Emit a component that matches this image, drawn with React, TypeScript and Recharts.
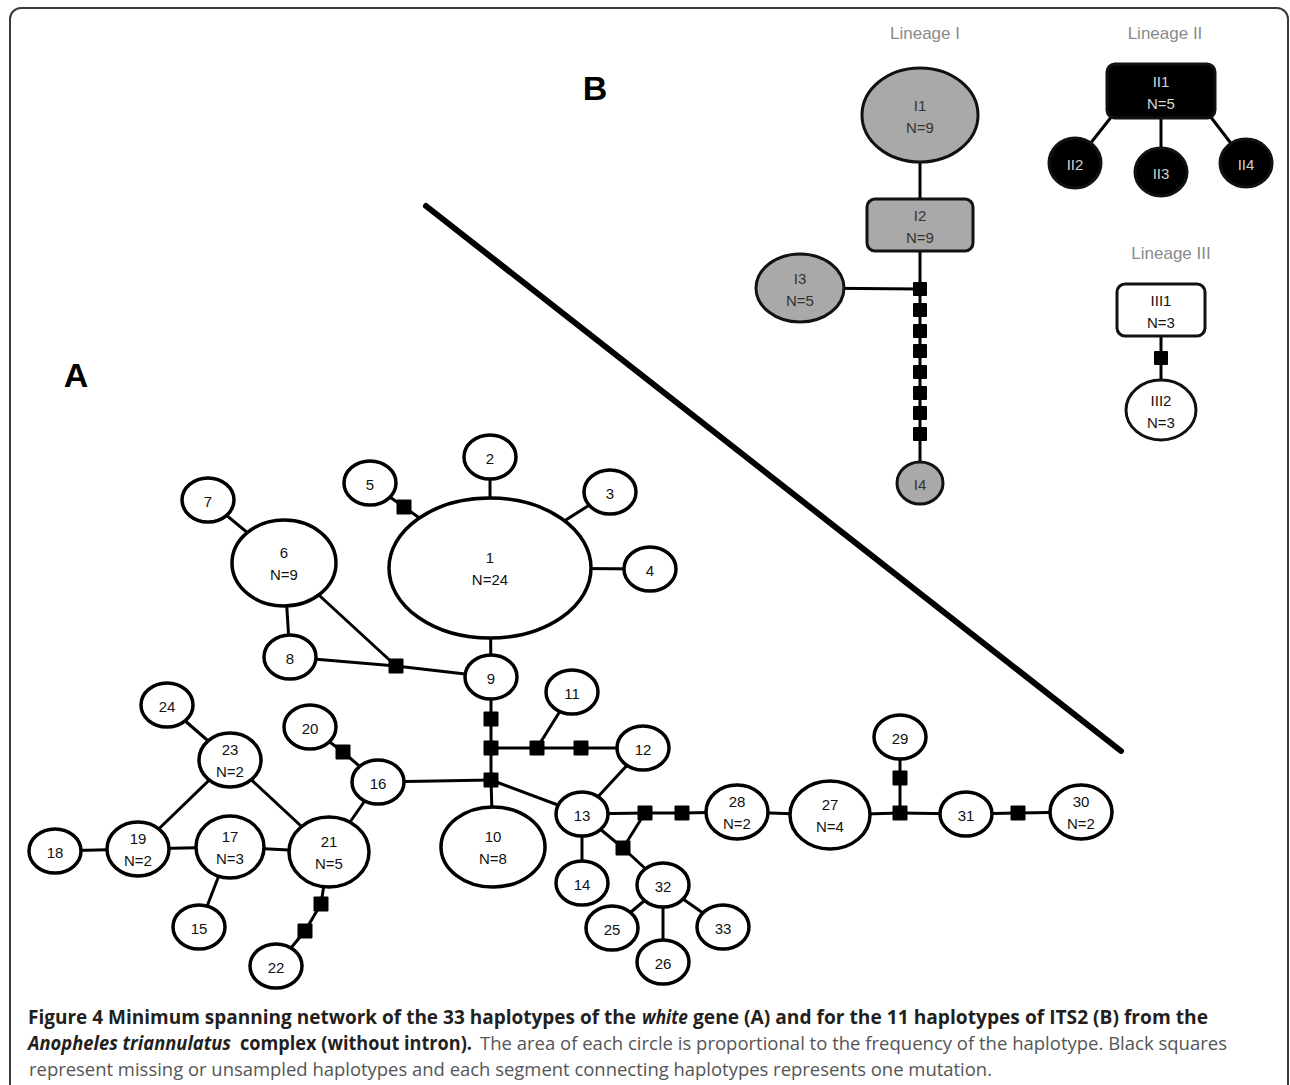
import React from 'react';
import { ScatterChart, Scatter, XAxis, YAxis } from 'recharts';

const W = 1290;
const H = 1085;

// ---------- Panel A: haplotypes of the white gene (id, frequency N, layout position) ----------
const haplotypesA = [
  { id: '1', n: 24, x: 490, y: 568 },
  { id: '2', n: 1, x: 490, y: 457 },
  { id: '3', n: 1, x: 610, y: 492 },
  { id: '4', n: 1, x: 650, y: 569 },
  { id: '5', n: 1, x: 370, y: 483 },
  { id: '6', n: 9, x: 284, y: 563 },
  { id: '7', n: 1, x: 208, y: 500 },
  { id: '8', n: 1, x: 290, y: 657 },
  { id: '9', n: 1, x: 491, y: 677 },
  { id: '10', n: 8, x: 493, y: 847 },
  { id: '11', n: 1, x: 572, y: 692 },
  { id: '12', n: 1, x: 643, y: 748 },
  { id: '13', n: 1, x: 582, y: 814 },
  { id: '14', n: 1, x: 582, y: 883 },
  { id: '15', n: 1, x: 199, y: 927 },
  { id: '16', n: 1, x: 378, y: 782 },
  { id: '17', n: 3, x: 230, y: 847 },
  { id: '18', n: 1, x: 55, y: 851 },
  { id: '19', n: 2, x: 138, y: 849 },
  { id: '20', n: 1, x: 310, y: 727 },
  { id: '21', n: 5, x: 329, y: 852 },
  { id: '22', n: 1, x: 276, y: 966 },
  { id: '23', n: 2, x: 230, y: 760 },
  { id: '24', n: 1, x: 167, y: 705 },
  { id: '25', n: 1, x: 612, y: 928 },
  { id: '26', n: 1, x: 663, y: 962 },
  { id: '27', n: 4, x: 830, y: 815 },
  { id: '28', n: 2, x: 737, y: 812 },
  { id: '29', n: 1, x: 900, y: 737 },
  { id: '30', n: 2, x: 1081, y: 812 },
  { id: '31', n: 1, x: 966, y: 814 },
  { id: '32', n: 1, x: 663, y: 885 },
  { id: '33', n: 1, x: 723, y: 927 },
];

// missing / unsampled haplotypes (black squares) in panel A
const missingA = [
  { id: 'a1', x: 404, y: 507 },
  { id: 'a2', x: 396, y: 666 },
  { id: 'a3', x: 491, y: 719 },
  { id: 'a4', x: 491, y: 748 },
  { id: 'a5', x: 537, y: 748 },
  { id: 'a6', x: 581, y: 748 },
  { id: 'a7', x: 491, y: 780 },
  { id: 'a8', x: 343, y: 752 },
  { id: 'a9', x: 645, y: 813 },
  { id: 'a10', x: 682, y: 813 },
  { id: 'a11', x: 623, y: 848 },
  { id: 'a12', x: 900, y: 813 },
  { id: 'a13', x: 900, y: 778 },
  { id: 'a14', x: 1018, y: 813 },
  { id: 'a15', x: 321, y: 904 },
  { id: 'a16', x: 305, y: 931 },
];

const linksA: [string, string][] = [
  ['1', '2'], ['1', '3'], ['1', '4'], ['1', 'a1'], ['a1', '5'], ['1', '9'],
  ['6', '7'], ['6', '8'], ['6', 'a2'], ['8', 'a2'], ['a2', '9'],
  ['9', 'a3'], ['a3', 'a4'], ['a4', 'a7'], ['a4', 'a5'], ['a5', 'a6'], ['a6', '12'], ['a5', '11'],
  ['a7', '16'], ['16', 'a8'], ['a8', '20'], ['16', '21'], ['a7', '10'], ['a7', '13'],
  ['13', '12'], ['13', 'a9'], ['a9', 'a10'], ['a10', '28'], ['a9', 'a11'], ['13', 'a11'], ['a11', '32'],
  ['13', '14'], ['32', '25'], ['32', '26'], ['32', '33'],
  ['28', '27'], ['27', 'a12'], ['a12', 'a13'], ['a13', '29'], ['a12', '31'], ['31', 'a14'], ['a14', '30'],
  ['23', '24'], ['23', '19'], ['23', '21'], ['19', '18'], ['19', '17'], ['17', '21'], ['17', '15'],
  ['21', 'a15'], ['a15', 'a16'], ['a16', '22'],
];

// ---------- Panel B: haplotypes of ITS2 ----------
const haplotypesB = [
  { id: 'I1', n: 9, x: 920, y: 115 },
  { id: 'I2', n: 9, x: 920, y: 225 },
  { id: 'I3', n: 5, x: 800, y: 288 },
  { id: 'I4', n: 1, x: 920, y: 483 },
  { id: 'II1', n: 5, x: 1161, y: 91 },
  { id: 'II2', n: 1, x: 1075, y: 163 },
  { id: 'II3', n: 1, x: 1161, y: 172 },
  { id: 'II4', n: 1, x: 1246, y: 163 },
  { id: 'III1', n: 3, x: 1161, y: 310 },
  { id: 'III2', n: 3, x: 1161, y: 410 },
];

const missingB = [
  { id: 'b1', x: 920, y: 289 },
  { id: 'b2', x: 920, y: 310 },
  { id: 'b3', x: 920, y: 331 },
  { id: 'b4', x: 920, y: 351 },
  { id: 'b5', x: 920, y: 372 },
  { id: 'b6', x: 920, y: 393 },
  { id: 'b7', x: 920, y: 413 },
  { id: 'b8', x: 920, y: 434 },
  { id: 'b9', x: 1161, y: 358 },
];

// attachment points on the II1 box
const anchorsB = [
  { id: 'II1L', x: 1112, y: 116 },
  { id: 'II1R', x: 1210, y: 116 },
];

const linksB: [string, string][] = [
  ['I1', 'I2'], ['I2', 'b1'], ['I3', 'b1'], ['b1', 'b2'], ['b2', 'b3'], ['b3', 'b4'],
  ['b4', 'b5'], ['b5', 'b6'], ['b6', 'b7'], ['b7', 'b8'], ['b8', 'I4'],
  ['II1L', 'II2'], ['II1', 'II3'], ['II1R', 'II4'],
  ['III1', 'b9'], ['b9', 'III2'],
];

// separator line between the panels
const separator = [
  { x: 426, y: 206 },
  { x: 1121, y: 751 },
];

const panelLetters = [
  { label: 'A', x: 76, y: 375 },
  { label: 'B', x: 595, y: 88 },
];

const lineageTitles = [
  { label: 'Lineage I', x: 925, y: 33 },
  { label: 'Lineage II', x: 1165, y: 33 },
  { label: 'Lineage III', x: 1171, y: 253 },
];

// ---------- styles ----------
const sizeA: Record<number, [number, number]> = {
  1: [26, 22], 2: [31, 27], 3: [34, 31], 4: [40, 34], 5: [40, 35], 8: [52, 40], 9: [52, 43], 24: [101, 70],
};

type BStyle = { kind: 'ellipse' | 'rect'; hw: number; hh: number; fill: string; text: string };
const styleB: Record<string, BStyle> = {
  I1: { kind: 'ellipse', hw: 58, hh: 47, fill: '#a9a9a9', text: '#333' },
  I2: { kind: 'rect', hw: 53, hh: 26, fill: '#a9a9a9', text: '#333' },
  I3: { kind: 'ellipse', hw: 44, hh: 34, fill: '#a9a9a9', text: '#333' },
  I4: { kind: 'ellipse', hw: 23, hh: 21, fill: '#a9a9a9', text: '#333' },
  II1: { kind: 'rect', hw: 54, hh: 27, fill: '#000', text: '#d8d8d8' },
  II2: { kind: 'ellipse', hw: 26, hh: 25, fill: '#000', text: '#d0d0d0' },
  II3: { kind: 'ellipse', hw: 26, hh: 24, fill: '#000', text: '#d0d0d0' },
  II4: { kind: 'ellipse', hw: 26, hh: 24, fill: '#000', text: '#d0d0d0' },
  III1: { kind: 'rect', hw: 44, hh: 26, fill: '#fff', text: '#111' },
  III2: { kind: 'ellipse', hw: 35, hh: 30, fill: '#fff', text: '#111' },
};

const LABEL_FONT = '"Liberation Sans", Arial, sans-serif';

const positions: Record<string, { x: number; y: number }> = {};
[...haplotypesA, ...missingA, ...haplotypesB, ...missingB, ...anchorsB].forEach((p) => {
  positions[p.id] = { x: p.x, y: p.y };
});

const allLinks = [...linksA, ...linksB];

const Nothing = () => <g />;

const renderHapA = (p: any) => {
  const { cx, cy, payload } = p;
  const [rx, ry] = sizeA[payload.n] || [26, 22];
  const common = {
    textAnchor: 'middle' as const,
    dominantBaseline: 'central' as const,
    fontFamily: LABEL_FONT,
    fontSize: 15,
    fill: '#111',
  };
  return (
    <g>
      <ellipse cx={cx} cy={cy} rx={rx} ry={ry} fill="#fff" stroke="#000" strokeWidth={3.5} />
      {payload.n > 1 ? (
        <>
          <text x={cx} y={cy - 11} {...common}>{payload.id}</text>
          <text x={cx} y={cy + 11} {...common}>{`N=${payload.n}`}</text>
        </>
      ) : (
        <text x={cx} y={cy + 1} {...common}>{payload.id}</text>
      )}
    </g>
  );
};

const renderHapB = (p: any) => {
  const { cx, cy, payload } = p;
  const s = styleB[payload.id];
  const common = {
    textAnchor: 'middle' as const,
    dominantBaseline: 'central' as const,
    fontFamily: LABEL_FONT,
    fontSize: 15,
    fill: s.text,
  };
  return (
    <g>
      {s.kind === 'ellipse' ? (
        <ellipse cx={cx} cy={cy} rx={s.hw} ry={s.hh} fill={s.fill} stroke="#111" strokeWidth={3} />
      ) : (
        <rect x={cx - s.hw} y={cy - s.hh} width={s.hw * 2} height={s.hh * 2} rx={8} ry={8} fill={s.fill} stroke="#111" strokeWidth={3} />
      )}
      {payload.n > 1 ? (
        <>
          <text x={cx} y={cy - 10} {...common}>{payload.id}</text>
          <text x={cx} y={cy + 12} {...common}>{`N=${payload.n}`}</text>
        </>
      ) : (
        <text x={cx} y={cy + 1} {...common}>{payload.id}</text>
      )}
    </g>
  );
};

const renderSquare = (size: number) => (p: any) => (
  <rect x={p.cx - size / 2} y={p.cy - size / 2} width={size} height={size} rx={1} fill="#000" />
);

const renderLetter = (p: any) => (
  <text x={p.cx} y={p.cy} textAnchor="middle" dominantBaseline="central" fontFamily={LABEL_FONT} fontWeight="bold" fontSize={34} fill="#000">
    {p.payload.label}
  </text>
);

const renderTitle = (p: any) => (
  <text x={p.cx} y={p.cy} textAnchor="middle" dominantBaseline="central" fontFamily={LABEL_FONT} fontSize={17} fill="#8a8a8a">
    {p.payload.label}
  </text>
);

const captionBold = '#231f20';
const captionRegular = '#555';

export default function App() {
  return (
    <div style={{ position: 'fixed', left: 0, top: 0, width: W, height: H, overflow: 'hidden', background: '#fff' }}>
      <div
        style={{
          position: 'absolute',
          left: 9,
          top: 7,
          width: 1280,
          height: 1120,
          border: '2px solid #3a3a3a',
          borderRadius: '12px 12px 0 0',
          boxSizing: 'border-box',
        }}
      />
      <div style={{ position: 'absolute', left: 0, top: 0 }}>
        <ScatterChart width={W} height={H} margin={{ top: 0, right: 0, bottom: 0, left: 0 }}>
          <XAxis type="number" dataKey="x" domain={[0, W]} hide allowDataOverflow />
          <YAxis type="number" dataKey="y" domain={[0, H]} reversed hide allowDataOverflow />
          <Scatter
            data={separator}
            fill="#000"
            stroke="#000"
            line={{ stroke: '#000', strokeWidth: 6, strokeLinecap: 'round' }}
            shape={Nothing}
            isAnimationActive={false}
          />
          {allLinks.map(([a, b], i) => (
            <Scatter
              key={`link-${i}`}
              data={[positions[a], positions[b]]}
              fill="#000"
              stroke="#000"
              line={{ stroke: '#000', strokeWidth: 3 }}
              shape={Nothing}
              isAnimationActive={false}
            />
          ))}
          <Scatter data={missingA} shape={renderSquare(15)} isAnimationActive={false} />
          <Scatter data={missingB} shape={renderSquare(14)} isAnimationActive={false} />
          <Scatter data={haplotypesA} shape={renderHapA} isAnimationActive={false} />
          <Scatter data={haplotypesB} shape={renderHapB} isAnimationActive={false} />
          <Scatter data={panelLetters} shape={renderLetter} isAnimationActive={false} />
          <Scatter data={lineageTitles} shape={renderTitle} isAnimationActive={false} />
        </ScatterChart>
      </div>
      <svg width={W} height={H} style={{ position: 'absolute', left: 0, top: 0, pointerEvents: 'none' }}>
        <g fontFamily='"Open Sans", "Noto Sans", sans-serif' fontSize={19}>
          <text x={28} y={1024} textLength={608} lengthAdjust="spacingAndGlyphs" fill={captionBold} fontWeight="bold">
            Figure 4 Minimum spanning network of the 33 haplotypes of the
          </text>
          <text x={642} y={1024} textLength={46} lengthAdjust="spacingAndGlyphs" fill={captionBold} fontWeight="bold" fontStyle="italic">
            white
          </text>
          <text x={693} y={1024} textLength={515} lengthAdjust="spacingAndGlyphs" fill={captionBold} fontWeight="bold">
            gene (A) and for the 11 haplotypes of ITS2 (B) from the
          </text>
          <text x={28} y={1050} textLength={203} lengthAdjust="spacingAndGlyphs" fill={captionBold} fontWeight="bold" fontStyle="italic">
            Anopheles triannulatus
          </text>
          <text x={240} y={1050} textLength={232} lengthAdjust="spacingAndGlyphs" fill={captionBold} fontWeight="bold">
            complex (without intron).
          </text>
          <text x={480} y={1050} textLength={747} lengthAdjust="spacingAndGlyphs" fill={captionRegular}>
            The area of each circle is proportional to the frequency of the haplotype. Black squares
          </text>
          <text x={29} y={1076} textLength={963} lengthAdjust="spacingAndGlyphs" fill={captionRegular}>
            represent missing or unsampled haplotypes and each segment connecting haplotypes represents one mutation.
          </text>
        </g>
      </svg>
    </div>
  );
}
